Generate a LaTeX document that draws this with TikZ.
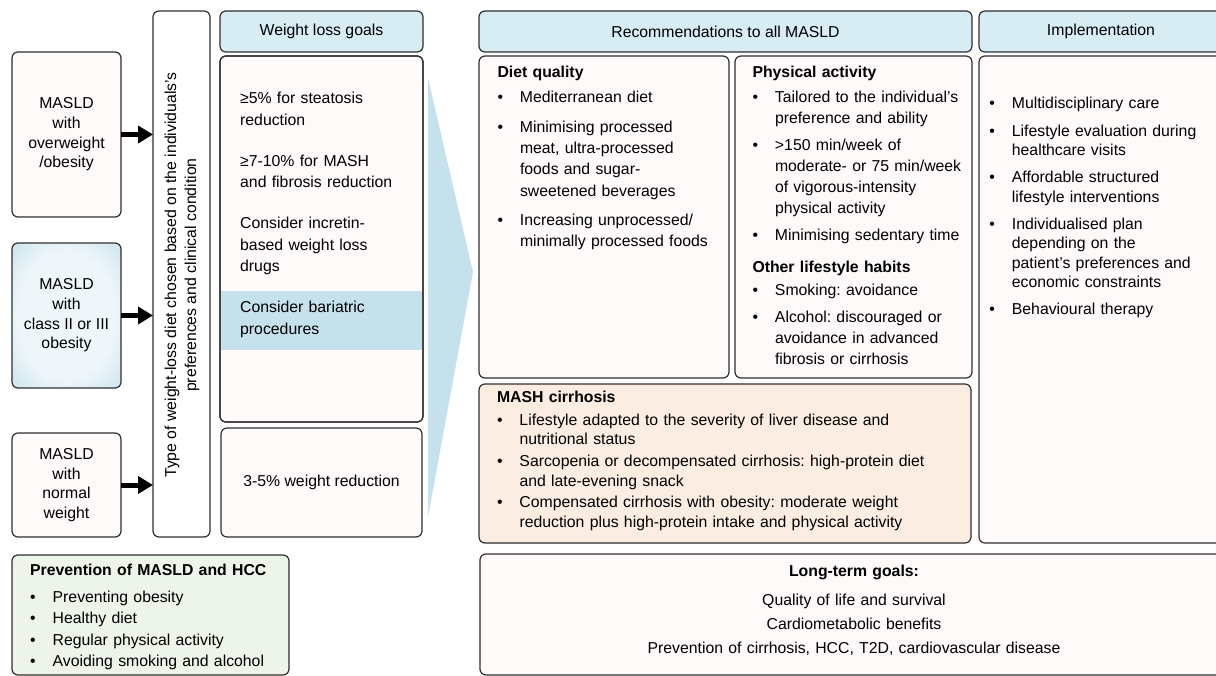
\documentclass[tikz,border=0pt]{standalone}
\usepackage{fontspec}
\setmainfont{Liberation Sans}
\usepackage{tikz}
\usetikzlibrary{arrows.meta}
\frenchspacing

\definecolor{edge}{HTML}{2F2F2F}
\definecolor{pinkin}{HTML}{FDFAF9}
\definecolor{pinkout}{HTML}{EFDAD4}
\definecolor{bluein}{HTML}{EEF6FA}
\definecolor{blueout}{HTML}{A9D2E2}
\definecolor{hdrin}{HTML}{D8ECF4}
\definecolor{hdrout}{HTML}{B3D6E4}
\definecolor{greenin}{HTML}{EDF4E9}
\definecolor{greenout}{HTML}{BFDBB0}
\definecolor{orangein}{HTML}{FCEDE2}
\definecolor{orangeout}{HTML}{F3BF8E}
\definecolor{bandblue}{HTML}{C5E1EB}

\pgfdeclareradialshading{pinkglow}{\pgfpoint{0bp}{0bp}}{color(0bp)=(pinkin); color(36bp)=(pinkin); color(50bp)=(pinkout)}
\pgfdeclareradialshading{blueglow}{\pgfpoint{0bp}{0bp}}{color(0bp)=(bluein); color(22bp)=(bluein); color(50bp)=(blueout)}
\pgfdeclareradialshading{hdrglow}{\pgfpoint{0bp}{0bp}}{color(0bp)=(hdrin); color(36bp)=(hdrin); color(50bp)=(hdrout)}
\pgfdeclareradialshading{greenglow}{\pgfpoint{0bp}{0bp}}{color(0bp)=(greenin); color(36bp)=(greenin); color(50bp)=(greenout)}
\pgfdeclareradialshading{orangeglow}{\pgfpoint{0bp}{0bp}}{color(0bp)=(orangein); color(36bp)=(orangein); color(50bp)=(orangeout)}

\newcommand{\fsz}[1]{\fontsize{15.8}{#1}\selectfont}
\newcommand{\ttl}[1]{\noindent\strut\textbf{#1}}
\newcommand{\nxt}[1]{\par\vspace{#1}\noindent\strut}
\newcommand{\itm}[1][0pt]{\par\vspace{#1}\noindent\hangindent=22.5pt\hangafter=1\makebox[22.5pt][l]{\textbullet}\strut}

\begin{document}
\begin{tikzpicture}[x=1pt,y=-1pt,
	panel/.style={draw=edge, line width=1.2pt, rounded corners=6pt, inner sep=0pt, outer sep=0pt, align=center, font=\fsz{19.7}},
	pinkbox/.style={panel, shade, shading=pinkglow},
	bluebox/.style={panel, shade, shading=blueglow},
	hdrbox/.style={panel, shade, shading=hdrglow},
	greenbox/.style={panel, shade, shading=greenglow},
	orangebox/.style={panel, shade, shading=orangeglow},
	lst/.style={inner sep=0pt, anchor=north west, align=left},
	fatarrow/.style={line width=5pt, -{Triangle[length=15pt,width=17pt]}}]

	\useasboundingbox (0,0) rectangle (1216,676);
	\clip (0,0) rectangle (1216,676);

	%% Patient groups %%
	\node[pinkbox, minimum width=109pt, minimum height=165pt] (ow) at (66.5,134.5) {MASLD\\with\\overweight\\/obesity};
	\node[bluebox, minimum width=109pt, minimum height=145pt] (cl) at (66.5,315.5) {MASLD\\with\\class II or III\\obesity};
	\node[pinkbox, minimum width=109pt, minimum height=104pt] (nw) at (66.5,485) {MASLD\\with\\normal\\weight};
	%% Diet type %%
	\node[panel, fill=white, minimum width=57pt, minimum height=526pt] (typ) at (181.5,274) {};
	\node[rotate=90, align=center, inner sep=0pt, font=\fsz{20}] (typtxt) at (182,275) {Type of weight-loss diet chosen based on the individuals's\\preferences and clinical condition};
	\foreach \g in {ow, cl, nw} \draw[fatarrow] (\g.east) -- (\g.east -| typ.west);

	%% Weight loss goals %%
	\node[hdrbox, minimum width=203pt, minimum height=41pt] (wlg) at (321.5,31.5) {Weight loss goals};
	\node[pinkbox, minimum width=203pt, minimum height=366pt] (goals) at (321.5,239) {};
	\fill[bandblue] (221,291) rectangle (422,350);
	\draw[line width=1.2pt, draw=edge, rounded corners=6pt] (goals.north west) rectangle (goals.south east);
	\node[lst, text width=180pt, font=\fsz{21.3}] (goalstxt) at (240,88.6) {\strut ≥5\% for steatosis\newline reduction\nxt{20pt}≥7-10\% for MASH\newline and fibrosis reduction\nxt{20pt}Consider incretin-\newline based weight loss\newline drugs\nxt{20pt}Consider bariatric\newline procedures\par};
	\node[pinkbox, minimum width=201pt, minimum height=109pt] (low) at (321.5,482.5) {3-5\% weight reduction};
	\fill[bandblue] (428,78) -- (473,272) -- (428,517) -- cycle;

	%% Recommendations %%
	\node[hdrbox, minimum width=493pt, minimum height=41pt] (rec) at (725.5,31.5) {Recommendations to all MASLD};
	\node[pinkbox, minimum width=250pt, minimum height=322pt] (diet) at (604,217) {};
	\node[lst, text width=240pt, font=\fsz{21.2}] (diettxt) at (497.3,62.2) {\ttl{Diet quality}\itm[4pt]Mediterranean diet\itm[8.8pt]Minimising processed\newline meat, ultra-processed\newline foods and sugar-\newline sweetened beverages\itm[8pt]Increasing unprocessed/\newline minimally processed foods\par};
	\node[pinkbox, minimum width=237pt, minimum height=322pt] (phys) at (853.5,217) {};
	\node[lst, text width=240pt, font=\fsz{21}] (phystxt) at (752.3,62.3) {\ttl{Physical activity}\itm[4pt]Tailored to the individual's\newline preference and ability\itm[6.5pt]>150 min/week of\newline moderate- or 75 min/week\newline of vigorous-intensity\newline physical activity\itm[6pt]Minimising sedentary time\par\vspace{10.5pt}\ttl{Other lifestyle habits}\itm[2pt]Smoking: avoidance\itm[6pt]Alcohol: discouraged or\newline avoidance in advanced\newline fibrosis or cirrhosis\par};
	\node[orangebox, minimum width=492pt, minimum height=159pt] (mash) at (725,463.5) {};
	\node[lst, text width=470pt, font=\fsz{19.5}] (mashtxt) at (496.8,388.9) {\ttl{MASH cirrhosis}\itm[3.2pt]Lifestyle adapted to the severity of liver disease and\newline nutritional status\itm[2.2pt]Sarcopenia or decompensated cirrhosis: high-protein diet\newline and late-evening snack\itm[2.2pt]Compensated cirrhosis with obesity: moderate weight\newline reduction plus high-protein intake and physical activity\par};

	%% Implementation %%
	\node[hdrbox, minimum width=244pt, minimum height=41pt] (imp) at (1101,31.5) {Implementation};
	\node[pinkbox, minimum width=244pt, minimum height=487pt] (impl) at (1101,299.5) {};
	\node[lst, text width=215pt, font=\fsz{19.3}] (impltxt) at (989.2,89) {\itm[0pt]Multidisciplinary care\itm[8.5pt]Lifestyle evaluation during\newline healthcare visits\itm[8pt]Affordable structured\newline lifestyle interventions\itm[8pt]Individualised plan\newline depending on the\newline patient's preferences and\newline economic constraints\itm[8pt]Behavioural therapy\par};

	%% Long-term goals %%
	\node[pinkbox, minimum width=748pt, minimum height=121pt] (ltg) at (854,614.5) {};
	\node[inner sep=0pt, anchor=north, align=center, text width=600pt, font=\fsz{24}] (ltgtxt) at (854,559.2) {\strut\textbf{Long-term goals:}\par\vspace{5.7pt}Quality of life and survival\par Cardiometabolic benefits\par Prevention of cirrhosis, HCC, T2D, cardiovascular disease\par};

	%% Prevention %%
	\node[greenbox, minimum width=277pt, minimum height=120pt] (prev) at (150.5,615) {};
	\node[lst, text width=255pt, font=\fsz{21.3}] (prevtxt) at (30,560.1) {\ttl{Prevention of MASLD and HCC}\itm[5.9pt]Preventing obesity\itm[0pt]Healthy diet\itm[0pt]Regular physical activity\itm[0pt]Avoiding smoking and alcohol\par};

\end{tikzpicture}
\end{document}
